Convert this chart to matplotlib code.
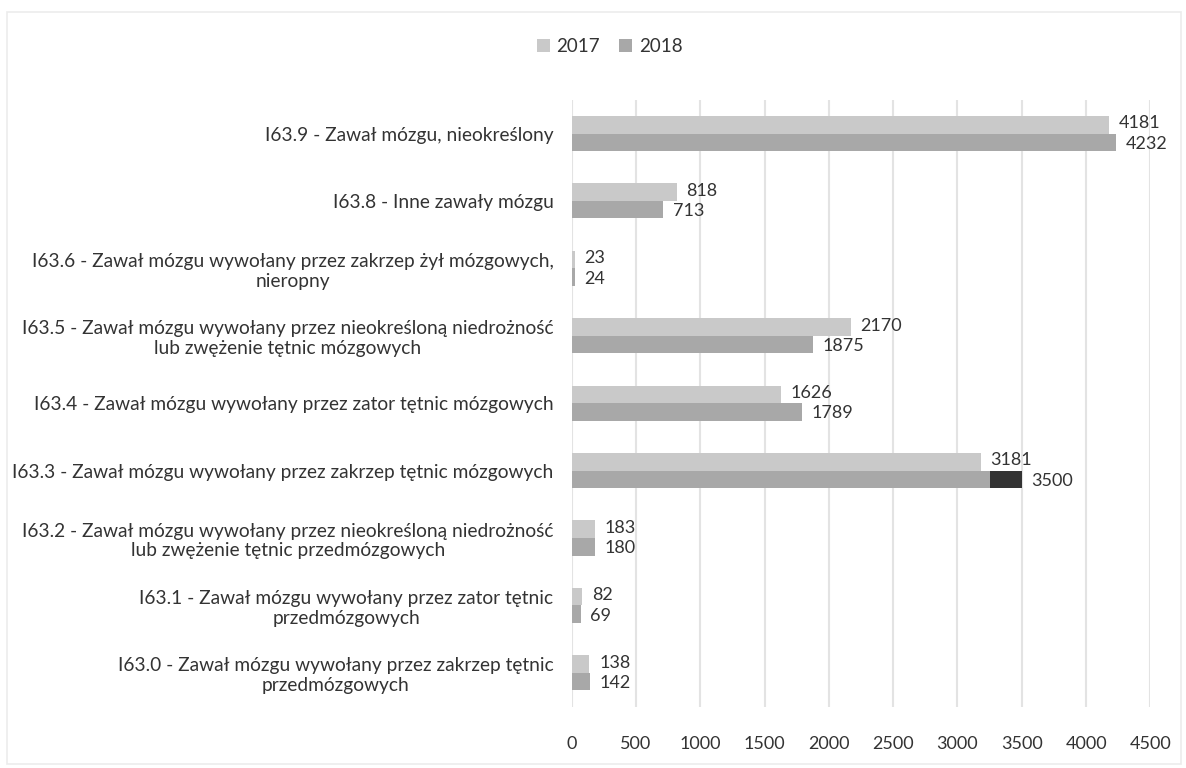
import matplotlib
matplotlib.use('Agg')
import matplotlib.pyplot as plt
import numpy as np
from matplotlib.patches import Rectangle

plt.rcParams['font.family'] = ['Lato', 'DejaVu Sans']

# categories from bottom to top
categories = ['I63.0 - Zawał mózgu wywołany przez zakrzep tętnic\nprzedmózgowych',
              'I63.1 - Zawał mózgu wywołany przez zator tętnic\nprzedmózgowych',
              'I63.2 - Zawał mózgu wywołany przez nieokreśloną niedrożność\nlub zwężenie tętnic przedmózgowych',
              'I63.3 - Zawał mózgu wywołany przez zakrzep tętnic mózgowych',
              'I63.4 - Zawał mózgu wywołany przez zator tętnic mózgowych',
              'I63.5 - Zawał mózgu wywołany przez nieokreśloną niedrożność\nlub zwężenie tętnic mózgowych',
              'I63.6 - Zawał mózgu wywołany przez zakrzep żył mózgowych,\nnieropny',
              'I63.8 - Inne zawały mózgu',
              'I63.9 - Zawał mózgu, nieokreślony']
v2017 = [138, 82, 183, 3181, 1626, 2170, 23, 818, 4181]
v2018 = [142, 69, 180, 3500, 1789, 1875, 24, 713, 4232]
years = ['2017', '2018']
xticks = [0, 500, 1000, 1500, 2000, 2500, 3000, 3500, 4000, 4500]

# dark marked piece on the 2018 bar of I63.3 (as in the scan)
mark_cat = 3
mark_from = 3250

c17 = '#c9c9c9'
c18 = '#a8a8a8'
txt = '#333333'

fig = plt.figure(figsize=(11.86, 7.68), dpi=100)
ax = fig.add_axes([0.482, 0.080, 0.488, 0.790])

y = np.arange(len(categories))
h = 0.26
ax.barh(y + h / 2, v2017, height=h, color=c17, label=years[0], zorder=2)
ax.barh(y - h / 2, v2018, height=h, color=c18, label=years[1], zorder=2)
ax.barh(mark_cat - h / 2, v2018[mark_cat] - mark_from, left=mark_from,
        height=h, color='#333333', zorder=3)

for i in range(len(categories)):
    ax.annotate(str(v2017[i]), (v2017[i], i + h / 2), xytext=(7, 1),
                textcoords='offset points', va='center', ha='left',
                fontsize=13, color=txt)
    ax.annotate(str(v2018[i]), (v2018[i], i - h / 2), xytext=(7, -1),
                textcoords='offset points', va='center', ha='left',
                fontsize=13, color=txt)

ax.set_xlim(0, 4500)
ax.set_ylim(-0.5, len(categories) - 0.5)
ax.set_xticks(xticks)
ax.set_xticklabels([str(t) for t in xticks], fontsize=13, color=txt)
ax.set_yticks(y)
ax.set_yticklabels(categories, fontsize=13.8, color=txt, multialignment='center')
ax.tick_params(axis='x', length=0, pad=21)
ax.tick_params(axis='y', length=0, pad=13)
ax.grid(axis='x', color='#e3e3e3', linewidth=1.5, zorder=0)
for s in ax.spines.values():
    s.set_visible(False)

fig.legend(loc='center', bbox_to_anchor=(0.514, 0.939), ncol=2, frameon=False,
           fontsize=13.5, handlelength=0.7, handleheight=0.7,
           handletextpad=0.35, columnspacing=1.0, labelcolor=txt)

fig.patches.append(Rectangle((0.006, 0.005), 0.99, 0.98, transform=fig.transFigure,
                             fill=False, edgecolor='#ececec', linewidth=1.2))

fig.savefig('out.png', dpi=100)
